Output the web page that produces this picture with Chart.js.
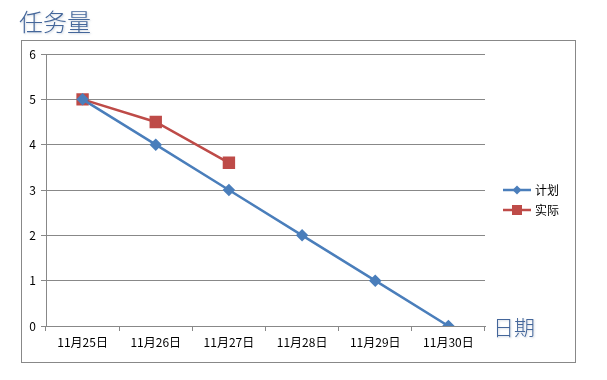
<!DOCTYPE html>
<html>
<head>
<meta charset="utf-8">
<script src="https://cdn.jsdelivr.net/npm/chart.js@4/dist/chart.umd.min.js"></script>
<style>
  body { margin: 0; background: #fff; }
  #wrap { position: relative; width: 607px; height: 380px; }
  .axt { position: absolute; font-family: "Noto Sans CJK SC", sans-serif; font-weight: 300; color: #44669a;
         text-shadow: 1px 1px 2px rgba(120,140,170,0.35); line-height: 1; }
</style>
</head>
<body>
<div id="wrap">
  <canvas id="myChart" width="607" height="380"></canvas>
  <div class="axt" style="left:19px;top:9px;font-size:24px;">任务量</div>
  <div class="axt" style="left:493px;top:316px;font-size:21px;">日期</div>
</div>
<script>
const chart_el = document.getElementById('myChart');

const labels = ['11月25日', '11月26日', '11月27日', '11月28日', '11月29日', '11月30日'];
const plan = [5, 4, 3, 2, 1, 0];
const actual = [5, 4.5, 3.6, null, null, null];
const seriesNames = ['计划', '实际'];

const blue = '#4a7ebb';
const red = '#be4b48';
const grey = '#888888';
const font = '"Noto Sans CJK SC", sans-serif';

// outer frame + legend with line and marker
const frame = {
    id: 'frame',
    beforeDraw(chart) {
        const ctx = chart.ctx;
        ctx.save();
        ctx.strokeStyle = grey;
        ctx.lineWidth = 1;
        ctx.strokeRect(21.5, 40.5, 554, 322);
        ctx.restore();
    },
    afterDraw(chart) {
        const ctx = chart.ctx;
        ctx.save();
        chart.data.datasets.forEach((ds, i) => {
            const y = 190 + i * 20;
            ctx.strokeStyle = ds.borderColor;
            ctx.lineWidth = 2.5;
            ctx.beginPath();
            ctx.moveTo(503, y);
            ctx.lineTo(531, y);
            ctx.stroke();
            ctx.fillStyle = ds.borderColor;
            ctx.beginPath();
            if (ds.pointStyle === 'rectRot') {
                ctx.moveTo(517, y - 4.5); ctx.lineTo(521.5, y); ctx.lineTo(517, y + 4.5); ctx.lineTo(512.5, y);
            } else {
                ctx.rect(512, y - 5, 10, 10);
            }
            ctx.fill();
            ctx.fillStyle = '#000';
            ctx.font = '12px ' + font;
            ctx.textBaseline = 'middle';
            ctx.fillText(ds.label, 535, y);
        });
        ctx.restore();
    }
};

const myChart = new Chart(chart_el, {
    type: 'line',
    data: {
        labels: labels,
        datasets: [{
            label: seriesNames[0],
            data: plan,
            borderColor: blue,
            backgroundColor: blue,
            borderWidth: 2.5,
            pointStyle: 'rectRot',
            pointRadius: 4.5,
            pointHoverRadius: 4.5
        }, {
            label: seriesNames[1],
            data: actual,
            borderColor: red,
            backgroundColor: red,
            borderWidth: 2.5,
            pointStyle: 'rect',
            pointRadius: 7,
            pointHoverRadius: 7
        }]
    },
    options: {
        responsive: false,
        animation: false,
        layout: { padding: { left: 20, right: 122, top: 54, bottom: 20 } },
        plugins: { legend: { display: false }, tooltip: { enabled: false } },
        scales: {
            x: {
                offset: true,
                afterFit(scale) { scale.height = 34; },
                grid: { offset: true, drawOnChartArea: false, color: grey, tickLength: 5 },
                border: { color: grey },
                ticks: { color: '#000', font: { family: font, size: 12 }, padding: 4, maxRotation: 0 }
            },
            y: {
                min: 0,
                max: 6,
                afterFit(scale) { scale.width = 26; },
                grid: { color: grey, tickLength: 5 },
                border: { color: grey },
                ticks: { stepSize: 1, color: '#000', font: { family: font, size: 12 }, padding: 5 }
            }
        }
    },
    plugins: [frame]
});
</script>
</body>
</html>
